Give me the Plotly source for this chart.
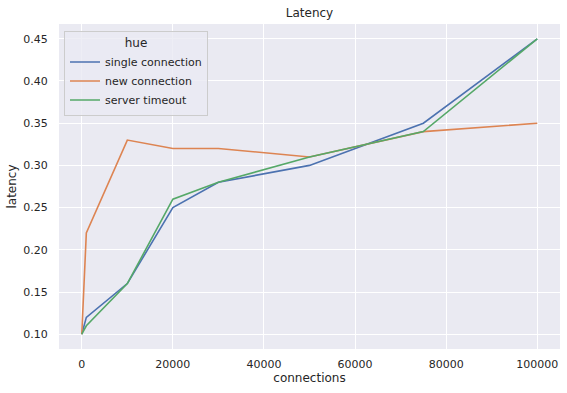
import plotly.graph_objects as go

connections = [0, 1000, 10000, 20000, 30000, 50000, 75000, 100000]
single_connection = [0.10, 0.12, 0.16, 0.25, 0.28, 0.30, 0.35, 0.45]
new_connection = [0.10, 0.22, 0.33, 0.32, 0.32, 0.31, 0.34, 0.35]
server_timeout = [0.10, 0.11, 0.16, 0.26, 0.28, 0.31, 0.34, 0.45]
x_ticks = [0, 20000, 40000, 60000, 80000, 100000]
y_ticks = [0.10, 0.15, 0.20, 0.25, 0.30, 0.35, 0.40, 0.45]

series = [
    ("single connection", single_connection, "#4c72b0"),
    ("new connection", new_connection, "#dd8452"),
    ("server timeout", server_timeout, "#55a868"),
]

fig = go.Figure()
for name, vals, color in series:
    fig.add_trace(go.Scatter(x=connections, y=vals, mode="lines", name=name,
                             line=dict(color=color, width=1.6)))

font = dict(family="DejaVu Sans", color="#262626")
fig.update_layout(
    width=567, height=393,
    margin=dict(l=59, r=7, t=24, b=44),
    paper_bgcolor="white", plot_bgcolor="#eaeaf2",
    font=dict(family="DejaVu Sans", size=11, color="#262626"),
    title=dict(text="Latency", x=0.5, xanchor="center", y=1 - 13 / 393, yanchor="middle",
               xref="paper", font=dict(size=12, **font)),
    showlegend=True,
    legend=dict(
        x=0.01, y=0.979, xanchor="left", yanchor="top",
        bgcolor="rgba(234,234,242,0.8)", bordercolor="#cccccc", borderwidth=1,
        font=dict(size=11, **font),
        title=dict(text="hue", side="top center", font=dict(size=12, **font)),
        tracegroupgap=0, itemwidth=30,
    ),
)
fig.update_xaxes(range=[-5000, 105000], tickvals=x_ticks, ticktext=[str(v) for v in x_ticks],
                 showgrid=True, gridcolor="white", gridwidth=1, zeroline=False, automargin=False,
                 showline=False, ticks="outside", ticklen=5, tickcolor="rgba(0,0,0,0)",
                 title=dict(text="connections", font=dict(size=12, **font), standoff=2),
                 tickfont=dict(size=11, **font))
fig.update_yaxes(range=[0.0825, 0.4675], tickvals=y_ticks, ticktext=[f"{v:.2f}" for v in y_ticks],
                 showgrid=True, gridcolor="white", gridwidth=1, zeroline=False, automargin=False,
                 showline=False, ticks="outside", ticklen=8, tickcolor="rgba(0,0,0,0)",
                 title=dict(text="latency", font=dict(size=12, **font), standoff=4),
                 tickfont=dict(size=11, **font))

fig.write_html("out.html", config={"displayModeBar": False},
               post_script="document.body.style.margin='0px';document.body.style.overflow='hidden';")
